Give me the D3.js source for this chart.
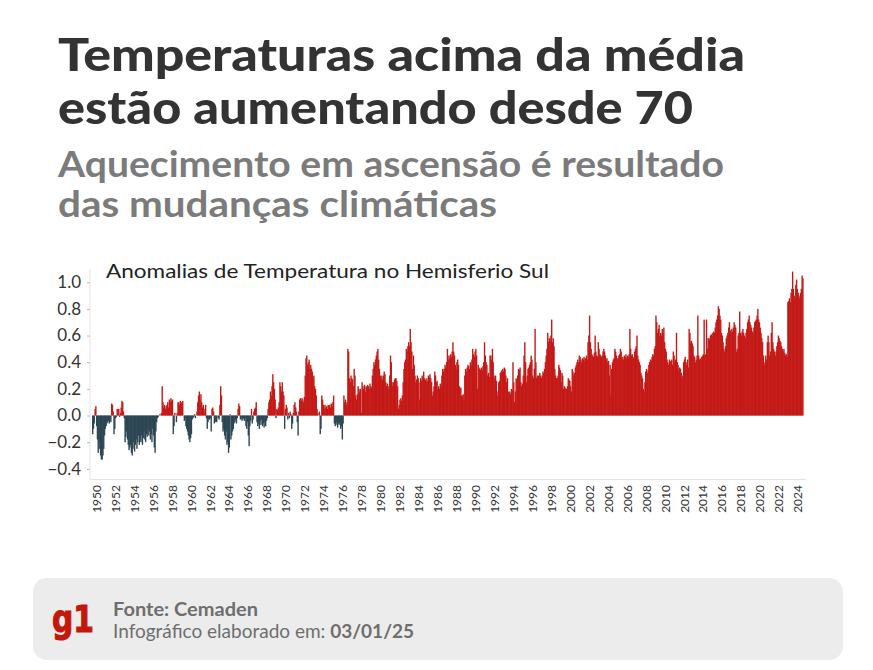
<!DOCTYPE html>
<html>
<head>
<meta charset="utf-8">
<script src="https://cdnjs.cloudflare.com/ajax/libs/d3/7.8.5/d3.min.js"></script>
<style>
  html, body { margin: 0; padding: 0; background: #ffffff; }
  svg { display: block; font-family: Lato, "Open Sans", sans-serif; }
</style>
</head>
<body>
<svg id="chart"></svg>
<script>
// anomalias mensais (°C), jan-dez de cada ano
var firstYear = 1950;
var lastYear = 2024;
var anomalies = [
  -0.14,-0.10,-0.06, 0.05, 0.07,-0.08,-0.18,-0.28,-0.20,-0.25,-0.30,-0.33, // 1950
  -0.33,-0.30,-0.25,-0.15,-0.10,-0.08,-0.06,-0.05,-0.04,-0.06,-0.03,-0.05, // 1951
   0.09, 0.08, 0.03,-0.14,-0.10,-0.02,-0.01, 0.05, 0.04, 0.05,-0.01, 0.02, // 1952
   0.06, 0.11, 0.10, 0.03,-0.02,-0.20,-0.16,-0.12,-0.18,-0.22,-0.26,-0.24, // 1953
  -0.22,-0.28,-0.30,-0.25,-0.20,-0.27,-0.22,-0.18,-0.25,-0.20,-0.15,-0.22, // 1954
  -0.18,-0.20,-0.15,-0.22,-0.17,-0.12,-0.18,-0.20,-0.14,-0.16,-0.10,-0.15, // 1955
  -0.12,-0.18,-0.14,-0.20,-0.10,-0.15,-0.24,-0.28,-0.12,-0.05,-0.02,-0.01, // 1956
   0.00, 0.01, 0.00, 0.02, 0.22, 0.10, 0.06, 0.08, 0.05, 0.07, 0.08, 0.10, // 1957
   0.06, 0.12, 0.10, 0.13, 0.11, 0.12,-0.14,-0.08, 0.02, 0.00,-0.05, 0.02, // 1958
   0.10, 0.10, 0.08, 0.11, 0.10, 0.09, 0.11, 0.00,-0.04,-0.02,-0.08,-0.10, // 1959
  -0.12,-0.15,-0.18,-0.20,-0.17,-0.14,-0.03,-0.02,-0.01, 0.01,-0.02, 0.00, // 1960
   0.03, 0.10, 0.15, 0.18, 0.12, 0.16, 0.10, 0.06, 0.08, 0.05, 0.02, 0.08, // 1961
  -0.02,-0.10,-0.05,-0.03,-0.03,-0.02,-0.12, 0.05, 0.06, 0.03,-0.06,-0.05, // 1962
  -0.04,-0.05, 0.00,-0.02,-0.03, 0.08, 0.22, 0.15,-0.05,-0.12,-0.10,-0.15, // 1963
  -0.18,-0.12,-0.22,-0.20,-0.28,-0.24, 0.01,-0.18,-0.15,-0.12,-0.10,-0.06, // 1964
  -0.05,-0.03,-0.06,-0.02, 0.05, 0.09, 0.07,-0.03,-0.02,-0.04,-0.03,-0.02, // 1965
  -0.04,-0.02,-0.08,-0.10,-0.05,-0.15,-0.23,-0.08,-0.04, 0.05,-0.06,-0.03, // 1966
   0.03, 0.05, 0.06, 0.10,-0.05,-0.08,-0.06,-0.10,-0.04,-0.07,-0.03,-0.08, // 1967
  -0.06,-0.09,-0.05,-0.08,-0.04,-0.02, 0.05, 0.10, 0.12, 0.18, 0.15, 0.22, // 1968
   0.31, 0.25, 0.20, 0.12,-0.02, 0.05, 0.04, 0.06, 0.10, 0.25, 0.22, 0.18, // 1969
   0.25, 0.18, 0.15,-0.10, 0.05, 0.08, 0.06,-0.03, 0.02,-0.02, 0.03, 0.01, // 1970
  -0.10,-0.06, 0.02, 0.08, 0.10, 0.06, 0.03,-0.05,-0.15, 0.03, 0.12, 0.13, // 1971
   0.11, 0.13, 0.12, 0.10, 0.14, 0.30, 0.43, 0.45, 0.38, 0.40, 0.42, 0.35, // 1972
   0.38, 0.35, 0.33, 0.28, 0.30, 0.22, 0.20, 0.15, 0.05, 0.02, 0.00, 0.03, // 1973
  -0.14,-0.10, 0.15, 0.12, 0.08, 0.05, 0.08, 0.06, 0.07, 0.05, 0.08, 0.07, // 1974
   0.08, 0.06, 0.09, 0.07, 0.10, 0.15,-0.06,-0.08,-0.07,-0.05,-0.09,-0.06, // 1975
  -0.07,-0.05,-0.10,-0.08,-0.18,-0.06, 0.15, 0.10, 0.12, 0.08, 0.10, 0.50, // 1976
   0.48, 0.28, 0.25, 0.30, 0.28, 0.27, 0.22, 0.35, 0.30, 0.15, 0.12, 0.16, // 1977
   0.22, 0.20, 0.18, 0.20, 0.02, 0.25, 0.22, 0.20, 0.23, 0.18, 0.22, 0.21, // 1978
   0.23, 0.22, 0.20, 0.24, 0.22, 0.21, 0.30, 0.35, 0.40, 0.38, 0.42, 0.45, // 1979
   0.48, 0.50, 0.42, 0.35, 0.30, 0.28, 0.30, 0.27, 0.30, 0.33, 0.31, 0.25, // 1980
   0.22, 0.24, 0.20, 0.22, 0.30, 0.45, 0.40, 0.25, 0.22, 0.25, 0.27, 0.28, // 1981
   0.28, 0.26, 0.22, 0.05, 0.08, 0.12, 0.13, 0.11, 0.15, 0.25, 0.35, 0.40, // 1982
   0.42, 0.50, 0.48, 0.52, 0.55, 0.52, 0.65, 0.55, 0.48, 0.35, 0.45, 0.38, // 1983
   0.30, 0.25, 0.27, 0.30, 0.28, 0.25, 0.12, 0.28, 0.26, 0.30, 0.28, 0.33, // 1984
   0.28, 0.27, 0.25, 0.28, 0.26, 0.30, 0.29, 0.31, 0.28, 0.25, 0.15, 0.18, // 1985
   0.22, 0.33, 0.30, 0.25, 0.26, 0.20, 0.22, 0.20, 0.24, 0.22, 0.30, 0.35, // 1986
   0.33, 0.35, 0.38, 0.36, 0.40, 0.50, 0.42, 0.45, 0.43, 0.46, 0.44, 0.48, // 1987
   0.55, 0.48, 0.45, 0.38, 0.35, 0.40, 0.42, 0.38, 0.22, 0.20, 0.21, 0.15, // 1988
   0.15, 0.16, 0.12, 0.30, 0.35, 0.33, 0.36, 0.38, 0.37, 0.35, 0.40, 0.38, // 1989
   0.42, 0.50, 0.46, 0.44, 0.48, 0.50, 0.45, 0.20, 0.38, 0.36, 0.35, 0.34, // 1990
   0.36, 0.34, 0.37, 0.40, 0.55, 0.45, 0.40, 0.38, 0.30, 0.32, 0.29, 0.45, // 1991
   0.45, 0.42, 0.50, 0.40, 0.30, 0.28, 0.30, 0.26, 0.15, 0.18, 0.25, 0.26, // 1992
   0.32, 0.33, 0.34, 0.35, 0.33, 0.36, 0.35, 0.30, 0.25, 0.28, 0.18, 0.17, // 1993
   0.18, 0.16, 0.20, 0.19, 0.40, 0.25, 0.10, 0.18, 0.28, 0.27, 0.30, 0.35, // 1994
   0.34, 0.36, 0.25, 0.22, 0.24, 0.30, 0.45, 0.55, 0.40, 0.25, 0.30, 0.35, // 1995
   0.36, 0.38, 0.40, 0.45, 0.42, 0.30, 0.28, 0.35, 0.65, 0.40, 0.28, 0.30, // 1996
   0.30, 0.29, 0.32, 0.30, 0.28, 0.30, 0.33, 0.32, 0.35, 0.40, 0.45, 0.50, // 1997
   0.62, 0.55, 0.58, 0.56, 0.60, 0.72, 0.55, 0.58, 0.52, 0.35, 0.30, 0.28, // 1998
   0.28, 0.30, 0.38, 0.36, 0.34, 0.25, 0.32, 0.30, 0.20, 0.22, 0.21, 0.20, // 1999
   0.20, 0.22, 0.28, 0.27, 0.26, 0.22, 0.18, 0.35, 0.33, 0.30, 0.32, 0.36, // 2000
   0.38, 0.40, 0.42, 0.40, 0.45, 0.44, 0.42, 0.40, 0.43, 0.42, 0.44, 0.41, // 2001
   0.43, 0.45, 0.42, 0.55, 0.60, 0.75, 0.55, 0.50, 0.46, 0.45, 0.44, 0.47, // 2002
   0.60, 0.48, 0.45, 0.44, 0.55, 0.50, 0.46, 0.45, 0.44, 0.45, 0.48, 0.50, // 2003
   0.48, 0.45, 0.42, 0.43, 0.40, 0.41, 0.30, 0.38, 0.15, 0.35, 0.40, 0.42, // 2004
   0.43, 0.50, 0.48, 0.45, 0.43, 0.42, 0.45, 0.46, 0.50, 0.48, 0.42, 0.44, // 2005
   0.42, 0.45, 0.44, 0.46, 0.43, 0.45, 0.44, 0.46, 0.65, 0.50, 0.45, 0.46, // 2006
   0.44, 0.43, 0.48, 0.50, 0.52, 0.60, 0.45, 0.42, 0.40, 0.38, 0.32, 0.30, // 2007
   0.28, 0.20, 0.18, 0.25, 0.33, 0.35, 0.32, 0.34, 0.38, 0.40, 0.42, 0.41, // 2008
   0.44, 0.46, 0.45, 0.50, 0.52, 0.75, 0.70, 0.62, 0.65, 0.68, 0.60, 0.62, // 2009
   0.60, 0.65, 0.62, 0.66, 0.55, 0.50, 0.48, 0.42, 0.40, 0.38, 0.42, 0.41, // 2010
   0.40, 0.42, 0.38, 0.48, 0.45, 0.40, 0.42, 0.62, 0.40, 0.38, 0.34, 0.36, // 2011
   0.35, 0.32, 0.28, 0.30, 0.40, 0.42, 0.44, 0.40, 0.38, 0.42, 0.36, 0.65, // 2012
   0.62, 0.55, 0.56, 0.54, 0.52, 0.45, 0.44, 0.40, 0.42, 0.45, 0.75, 0.45, // 2013
   0.42, 0.43, 0.42, 0.44, 0.45, 0.46, 0.72, 0.45, 0.46, 0.72, 0.50, 0.58, // 2014
   0.58, 0.57, 0.60, 0.61, 0.60, 0.62, 0.63, 0.62, 0.66, 0.70, 0.72, 0.75, // 2015
   0.82, 0.80, 0.75, 0.72, 0.62, 0.60, 0.55, 0.50, 0.48, 0.52, 0.58, 0.60, // 2016
   0.62, 0.66, 0.70, 0.64, 0.62, 0.65, 0.63, 0.66, 0.70, 0.68, 0.66, 0.48, // 2017
   0.50, 0.60, 0.62, 0.78, 0.62, 0.60, 0.63, 0.65, 0.62, 0.60, 0.58, 0.62, // 2018
   0.65, 0.70, 0.72, 0.75, 0.70, 0.68, 0.66, 0.63, 0.62, 0.66, 0.70, 0.71, // 2019
   0.72, 0.75, 0.80, 0.72, 0.70, 0.66, 0.62, 0.58, 0.55, 0.45, 0.38, 0.40, // 2020
   0.45, 0.42, 0.55, 0.60, 0.55, 0.45, 0.48, 0.62, 0.70, 0.55, 0.50, 0.48, // 2021
   0.45, 0.48, 0.52, 0.55, 0.60, 0.58, 0.56, 0.55, 0.52, 0.50, 0.48, 0.50, // 2022
   0.47, 0.45, 0.46, 0.44, 0.85, 0.86, 0.88, 0.85, 0.92, 0.95, 1.08, 0.95, // 2023
   0.90, 0.88, 0.98, 1.02, 0.95, 0.92, 0.90, 0.88, 0.92, 0.95, 1.05, 1.03  // 2024
];
var yTicks = [-0.4, -0.2, 0.0, 0.2, 0.4, 0.6, 0.8, 1.0];
var labelYears = d3.range(1950, 2025, 2);

var width = 873, height = 670;
var svg = d3.select("#chart").attr("width", width).attr("height", height);

svg.append("rect").attr("width", width).attr("height", height).attr("fill", "#ffffff");

// titulo e subtitulo
var head = svg.append("g");
head.append("text").attr("x", 58).attr("y", 71)
  .attr("textLength", 687).attr("lengthAdjust", "spacingAndGlyphs")
  .style("font-size", "46px").style("font-weight", 900).style("fill", "#333333")
  .text("Temperaturas acima da média");
head.append("text").attr("x", 58).attr("y", 124)
  .attr("textLength", 635).attr("lengthAdjust", "spacingAndGlyphs")
  .style("font-size", "46px").style("font-weight", 900).style("fill", "#333333")
  .text("estão aumentando desde 70");
head.append("text").attr("x", 58).attr("y", 177)
  .attr("textLength", 666).attr("lengthAdjust", "spacingAndGlyphs")
  .style("font-size", "36px").style("font-weight", 700).style("fill", "#7b7b7b")
  .text("Aquecimento em ascensão é resultado");
head.append("text").attr("x", 58).attr("y", 217)
  .attr("textLength", 439).attr("lengthAdjust", "spacingAndGlyphs")
  .style("font-size", "36px").style("font-weight", 700).style("fill", "#7b7b7b")
  .text("das mudanças climáticas");

// escalas
var months = d3.range(anomalies.length);
var x = d3.scaleBand().domain(months).range([92, 803]).padding(0);
var y = d3.scaleLinear().domain([-0.48, 1.1]).range([479.5, 268.9]);

var g = svg.append("g");

// eixo y
g.append("line").attr("x1", 90).attr("x2", 90).attr("y1", y(1.1)).attr("y2", y(-0.48))
  .style("stroke", "#e3e3e3").style("stroke-width", 1);
var yAxis = g.append("g").attr("transform", "translate(90,0)")
  .call(d3.axisLeft(y).tickValues(yTicks).tickSize(3).tickPadding(6).tickFormat(d3.format(".1f")));
yAxis.select(".domain").remove();
yAxis.selectAll("line").style("stroke", "#bbbbbb");
yAxis.selectAll("text").style("font-size", "17px").style("fill", "#333333")
  .style("font-family", "Lato, 'Open Sans', sans-serif");

// barras
g.append("g").selectAll("rect")
  .data(anomalies)
  .enter().append("rect")
    .attr("x", function(d, i) { return x(i); })
    .attr("width", x.bandwidth() + 0.6)
    .attr("y", function(d) { return y(Math.max(0, d)); })
    .attr("height", function(d) { return Math.abs(y(d) - y(0)); })
    .style("fill", function(d) { return d >= 0 ? "#c41a17" : "#2d4654"; });

// eixo x
g.append("line").attr("x1", 90).attr("x2", 806).attr("y1", y(-0.48)).attr("y2", y(-0.48))
  .style("stroke", "#e3e3e3").style("stroke-width", 1);
g.append("g").selectAll("text")
  .data(labelYears)
  .enter().append("text")
    .attr("transform", function(d) {
      var cx = x((d - firstYear) * 12 + 6);
      return "translate(" + (cx + 4) + ",485) rotate(-90)";
    })
    .style("text-anchor", "end")
    .style("font-size", "12px").style("fill", "#333333")
    .text(function(d) { return d; });

// titulo do grafico
g.append("text").attr("x", 106).attr("y", 278)
  .attr("textLength", 443).attr("lengthAdjust", "spacingAndGlyphs")
  .style("font-size", "19px").style("fill", "#222222")
  .text("Anomalias de Temperatura no Hemisferio Sul");

// rodape
var foot = svg.append("g");
foot.append("rect").attr("x", 33).attr("y", 578).attr("width", 810).attr("height", 82)
  .attr("rx", 14).style("fill", "#ececec");
foot.append("text").attr("x", 52).attr("y", 632)
  .attr("textLength", 42).attr("lengthAdjust", "spacingAndGlyphs")
  .style("font-size", "37px").style("font-weight", 700).style("fill", "#c4170c")
  .style("font-family", "'DejaVu Sans', sans-serif")
  .style("stroke", "#c4170c").style("stroke-width", 1.2)
  .text("g1");
foot.append("text").attr("x", 113).attr("y", 616)
  .attr("textLength", 145).attr("lengthAdjust", "spacingAndGlyphs")
  .style("font-size", "19px").style("font-weight", 700).style("fill", "#6e6e6e")
  .text("Fonte: Cemaden");
var line2 = foot.append("text").attr("x", 113).attr("y", 638)
  .style("font-size", "19px").style("fill", "#6e6e6e");
line2.append("tspan").text("Infográfico elaborado em: ");
line2.append("tspan").style("font-weight", 700).text("03/01/25");
</script>
</body>
</html>
